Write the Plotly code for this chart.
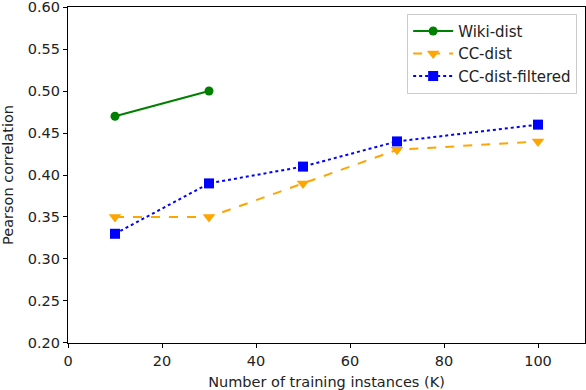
import plotly.graph_objects as go

# data
wiki_x = [10, 30]
wiki_y = [0.47, 0.50]
cc_x = [10, 30, 50, 70, 100]
cc_y = [0.35, 0.35, 0.39, 0.43, 0.44]
ccf_x = [10, 30, 50, 70, 100]
ccf_y = [0.33, 0.39, 0.41, 0.44, 0.46]

x_ticks = [0, 20, 40, 60, 80, 100]
y_ticks = [0.20, 0.25, 0.30, 0.35, 0.40, 0.45, 0.50, 0.55, 0.60]

fig = go.Figure()
fig.add_trace(go.Scatter(x=wiki_x, y=wiki_y, name='Wiki-dist', mode='lines+markers',
                         line=dict(color='#008000', width=2, dash='solid'),
                         marker=dict(symbol='circle', size=9, color='#008000')))
fig.add_trace(go.Scatter(x=cc_x, y=cc_y, name='CC-dist', mode='lines+markers',
                         line=dict(color='#FFA500', width=2, dash='dash'),
                         marker=dict(symbol='triangle-down', size=11, color='#FFA500')))
fig.add_trace(go.Scatter(x=ccf_x, y=ccf_y, name='CC-dist-filtered', mode='lines+markers',
                         line=dict(color='#0000FF', width=2, dash='dot'),
                         marker=dict(symbol='square', size=10, color='#0000FF')))

axis_style = dict(showline=True, linecolor='black', linewidth=1.2, mirror=True,
                  ticks='outside', ticklen=4, tickcolor='black', showgrid=False,
                  zeroline=False, automargin=False, ticklabeloverflow='allow',
                  tickfont=dict(size=14.5, color='#222'))

fig.update_layout(
    width=586, height=390,
    margin=dict(l=68, r=1, t=7, b=47),
    paper_bgcolor='white', plot_bgcolor='white',
    font=dict(family='DejaVu Sans', color='#222'),
    showlegend=True,
    legend=dict(x=0.656, y=0.98, xanchor='left', yanchor='top',
                bgcolor='white', bordercolor='#ccc', borderwidth=1,
                font=dict(size=15), tracegroupgap=0, itemwidth=40),
    xaxis=dict(range=[0, 110], tickvals=x_ticks,
               title=dict(text='Number of training instances (K)', font=dict(size=14.5), standoff=12),
               **axis_style),
    yaxis=dict(range=[0.1999, 0.6001], tickvals=y_ticks, tickformat='.2f',
               title=dict(text='Pearson correlation', font=dict(size=14.5), standoff=10),
               **axis_style),
)

fig.write_html("out.html", config={'displayModeBar': False},
               post_script="document.body.style.margin = '0';")
